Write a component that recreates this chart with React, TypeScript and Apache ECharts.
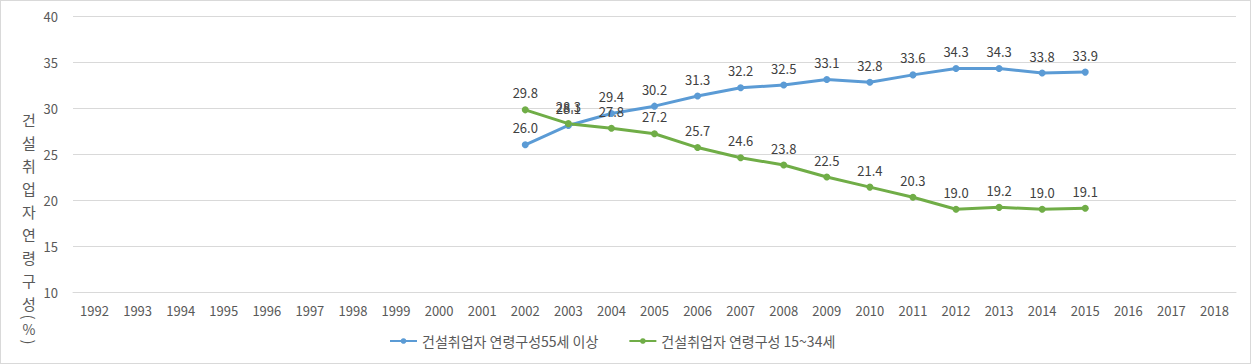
import React, { useEffect, useRef } from "react";
import * as echarts from "echarts";

const years = [
  "1992", "1993", "1994", "1995", "1996", "1997", "1998", "1999", "2000", "2001",
  "2002", "2003", "2004", "2005", "2006", "2007", "2008", "2009", "2010", "2011",
  "2012", "2013", "2014", "2015", "2016", "2017", "2018",
];
const older = [
  null, null, null, null, null, null, null, null, null, null,
  26.0, 28.1, 29.4, 30.2, 31.3, 32.2, 32.5, 33.1, 32.8, 33.6,
  34.3, 34.3, 33.8, 33.9, null, null, null,
];
const younger = [
  null, null, null, null, null, null, null, null, null, null,
  29.8, 28.3, 27.8, 27.2, 25.7, 24.6, 23.8, 22.5, 21.4, 20.3,
  19.0, 19.2, 19.0, 19.1, null, null, null,
];
const seriesNames = ["건설취업자 연령구성55세 이상", "건설취업자 연령구성 15~34세"];
const yAxisTitle = ["건", "설", "취", "업", "자", "연", "령", "구", "성"];

const FONT = "'Noto Sans CJK KR', 'Noto Sans', sans-serif";

export default function App() {
  const ref = useRef<HTMLDivElement>(null);
  useEffect(() => {
    if (!ref.current) return;
    const chart = echarts.init(ref.current, null, { renderer: "svg" });
    const mkSeries = (name: string, data: (number | null)[], color: string) => ({
      name,
      type: "line",
      data,
      symbol: "circle",
      symbolSize: 7,
      lineStyle: { width: 3, color },
      itemStyle: { color },
      label: {
        show: true,
        position: "top",
        distance: 7,
        color: "#404040",
        fontSize: 13,
        fontFamily: FONT,
        formatter: (p: any) => (p.value == null ? "" : Number(p.value).toFixed(1)),
      },
    });
    const titleStyle = { fontSize: 15, fill: "#595959", fontFamily: FONT, align: "center", verticalAlign: "middle" };
    chart.setOption({
      animation: false,
      textStyle: { fontFamily: FONT },
      grid: { left: 72, right: 14, top: 15, bottom: 71 },
      xAxis: {
        type: "category",
        data: years,
        boundaryGap: true,
        axisLine: { show: true, lineStyle: { color: "#d9d9d9" } },
        axisTick: { show: false },
        axisLabel: { color: "#595959", fontSize: 13, margin: 12, fontFamily: FONT },
      },
      yAxis: {
        type: "value",
        min: 10,
        max: 40,
        interval: 5,
        axisLine: { show: false },
        axisTick: { show: false },
        axisLabel: { color: "#595959", fontSize: 13, margin: 15, fontFamily: FONT },
        splitLine: { lineStyle: { color: "#d9d9d9", width: 1 } },
      },
      legend: {
        bottom: 10,
        left: 383,
        itemWidth: 27,
        itemHeight: 7,
        itemGap: 30,
        textStyle: { color: "#595959", fontSize: 14, fontFamily: FONT },
        data: seriesNames,
      },
      graphic: [
        {
          type: "text",
          x: 28,
          y: 107,
          style: {
            ...titleStyle,
            text: yAxisTitle.join("\n"),
            lineHeight: 23,
            verticalAlign: "top",
          },
        },
        { type: "text", x: 28, y: 316, rotation: -Math.PI / 2, style: { ...titleStyle, text: "(" } },
        { type: "text", x: 28, y: 328, style: { ...titleStyle, fontSize: 14, text: "%" } },
        { type: "text", x: 28, y: 341, rotation: -Math.PI / 2, style: { ...titleStyle, text: ")" } },
      ],
      series: [mkSeries(seriesNames[0], older, "#5B9BD5"), mkSeries(seriesNames[1], younger, "#70AD47")],
    });
    return () => chart.dispose();
  }, []);
  return (
    <div
      ref={ref}
      style={{
        position: "fixed",
        left: 0,
        top: 0,
        width: 1251,
        height: 364,
        boxSizing: "border-box",
        border: "1px solid #d9d9d9",
        background: "#fff",
      }}
    />
  );
}
